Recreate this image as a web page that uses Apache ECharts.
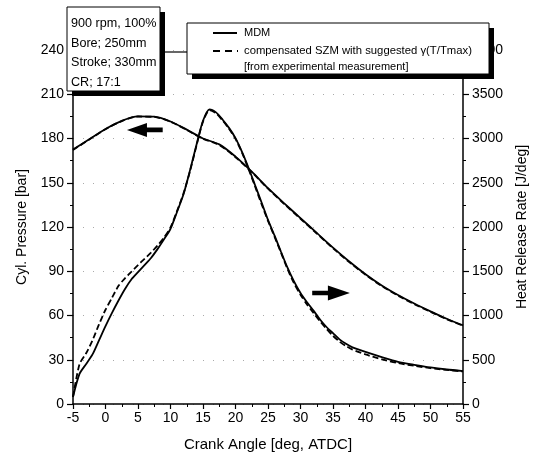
<!DOCTYPE html>
<html>
<head>
<meta charset="utf-8">
<script src="https://cdn.jsdelivr.net/npm/echarts@6/dist/echarts.min.js"></script>
<style>
html,body{margin:0;padding:0;background:#fff;}
#chart{width:541px;height:466px;}
</style>
</head>
<body>
<div id="chart"></div>
<script>
// ---- data ----
var pressureAngle = [-5,-2.5,0,2.5,5,7.5,10,12.5,15,17.5,20,22.5,25,27.5,30,32.5,35,37.5,40,42.5,45,47.5,50,52.5,55];
var pressureMDM = [172.5,179.5,186.5,192,195,194.8,191.5,186,180,176,167.7,157.5,146.3,136,126,116,106,96.6,88,80.4,73.9,68.1,62.8,57.8,53.3];
var pressureSZM = [172.2,179.3,186.3,191.8,194.9,194.6,191.4,185.8,179.8,175.6,167.3,157.2,146,135.6,125.6,115.6,105.6,96.2,87.6,80,73.5,67.7,62.5,57.5,53];

var hrrAngle = [-5,-4,-3,-2,-1,0,1,2,3,4,5,6,7,8,9,10,11,12,13,14,15,16,17,18,19,20,21,22,23,24,25,26,27,28,29,30,31,32,33,34,35,36,37,38,40,42.5,45,47.5,50,52.5,55];
var hrrMDM = [80,340,450,560,720,880,1030,1170,1300,1410,1490,1570,1650,1750,1860,1980,2170,2370,2640,2930,3200,3330,3295,3215,3120,3005,2850,2670,2475,2280,2080,1905,1720,1540,1385,1255,1150,1055,955,870,800,730,680,640,588,530,477,443,413,390,372];
var hrrSZM = [80,450,570,720,900,1065,1200,1335,1420,1495,1570,1640,1710,1790,1880,1995,2180,2380,2630,2920,3190,3320,3285,3205,3110,2995,2840,2655,2460,2260,2070,1890,1710,1525,1365,1235,1125,1030,935,850,770,705,655,615,560,505,462,432,405,385,368];

var xTicks = {min:-5, max:55, interval:5};
var pressureTicks = {min:0, max:240, interval:30};
var hrrTicks = {min:0, max:4000, interval:500};

var infoLines = ['900 rpm, 100%','Bore; 250mm','Stroke; 330mm','CR; 17:1'];
var legendNames = ['MDM','compensated SZM with suggested \u03b3(T/Tmax)'];
var legendNote = '[from experimental measurement]';

function pairs(xs, ys){ return xs.map(function(x,i){ return [x, ys[i]]; }); }

var FONT = '"Liberation Sans", Arial, sans-serif';
var chart = echarts.init(document.getElementById('chart'), null, {renderer:'canvas'});

function yAxisBase(t, pos, name, gap){
  return {
    type:'value', position:pos, min:t.min, max:t.max, interval:t.interval,
    name:name, nameLocation:'middle', nameRotate:90, nameGap:gap,
    nameTextStyle:{color:'#000', fontSize:14, fontFamily:FONT},
    axisLine:{show:true, onZero:false, lineStyle:{color:'#000', width:1.5}},
    axisTick:{show:true, length:6, lineStyle:{color:'#000', width:1.2}},
    minorTick:{show:true, splitNumber:2, length:3, lineStyle:{color:'#000', width:1}},
    axisLabel:{color:'#000', fontSize:14, fontFamily:FONT, margin:9, formatter:function(v){ return String(v); }},
    splitLine:{show:false}
  };
}

var yLeft = yAxisBase(pressureTicks, 'left', 'Cyl. Pressure [bar]', 44);
yLeft.splitLine = {show:true, lineStyle:{color:'#aaa', type:[1,9], width:1}};
var yRight = yAxisBase(hrrTicks, 'right', 'Heat Release Rate [J/deg]', 52);

var lineW = 1.8;
chart.setOption({
  animation:false,
  backgroundColor:'#fff',
  grid:{left:73, right:78, top:50, bottom:62, containLabel:false},
  xAxis:{
    type:'value', min:xTicks.min, max:xTicks.max, interval:xTicks.interval,
    name:'Crank Angle [deg, ATDC]', nameLocation:'middle', nameGap:33,
    nameTextStyle:{color:'#000', fontSize:15, fontFamily:FONT},
    axisLine:{show:true, onZero:false, lineStyle:{color:'#000', width:1.5}},
    axisTick:{show:true, length:5, lineStyle:{color:'#000', width:1.2}},
    minorTick:{show:true, splitNumber:2, length:3, lineStyle:{color:'#000', width:1}},
    axisLabel:{color:'#000', fontSize:14, fontFamily:FONT, margin:7},
    splitLine:{show:false}
  },
  yAxis:[yLeft, yRight],
  series:[
    {name:legendNames[0], type:'line', yAxisIndex:0, data:pairs(pressureAngle, pressureMDM), showSymbol:false, smooth:0.3,
     lineStyle:{color:'#000', width:lineW}, z:3},
    {name:legendNames[1], type:'line', yAxisIndex:0, data:pairs(pressureAngle, pressureSZM), showSymbol:false, smooth:0.3,
     lineStyle:{color:'#000', width:lineW, type:[6,3]}, z:4},
    {name:legendNames[0], type:'line', yAxisIndex:1, data:pairs(hrrAngle, hrrMDM), showSymbol:false, smooth:0.25,
     lineStyle:{color:'#000', width:lineW}, z:3},
    {name:legendNames[1], type:'line', yAxisIndex:1, data:pairs(hrrAngle, hrrSZM), showSymbol:false, smooth:0.25,
     lineStyle:{color:'#000', width:lineW, type:[6,3]}, z:4}
  ]
});

// arrows anchored to data coordinates
function px(x, y, axis){ return chart.convertToPixel({xAxisIndex:0, yAxisIndex:axis}, [x, y]); }
function arrow(tail, tip, headLen, headHalf, shaftHalf){
  var dir = tip[0] > tail[0] ? 1 : -1;
  var hx = tip[0] - dir*headLen, y = tip[1];
  return {type:'polygon', z:50, shape:{points:[
    [tail[0], y-shaftHalf],[hx, y-shaftHalf],[hx, y-headHalf],[tip[0], y],
    [hx, y+headHalf],[hx, y+shaftHalf],[tail[0], y+shaftHalf]]}, style:{fill:'#000'}};
}
var leftArrowTail = px(8.8, 185.8, 0), leftArrowTip = px(3.3, 185.8, 0);
var rightArrowTail = px(31.8, 1254, 1), rightArrowTip = px(37.6, 1254, 1);

var g = [];
g.push(arrow(leftArrowTail, leftArrowTip, 20, 7, 2.4));
g.push(arrow(rightArrowTail, rightArrowTip, 22, 7.5, 2.2));

// info box
g.push({type:'rect', z:100, shape:{x:72, y:12, width:93, height:84}, style:{fill:'#000'}});
g.push({type:'rect', z:101, shape:{x:67, y:7, width:93, height:84}, style:{fill:'#fff', stroke:'#000', lineWidth:1}});
infoLines.forEach(function(t, i){
  g.push({type:'text', z:102, x:71, y:24 + i*19.5, style:{text:t, fill:'#000', font:'12.6px '+FONT, textVerticalAlign:'middle', verticalAlign:'middle'}});
});
// connector
g.push({type:'line', z:99, shape:{x1:160, y1:52, x2:187, y2:52}, style:{stroke:'#000', lineWidth:1.2}});
// legend box
g.push({type:'rect', z:100, shape:{x:192, y:28, width:302, height:51}, style:{fill:'#000'}});
g.push({type:'rect', z:101, shape:{x:187, y:23, width:302, height:51}, style:{fill:'#fff', stroke:'#000', lineWidth:1}});
g.push({type:'line', z:102, shape:{x1:213, y1:33, x2:237, y2:33}, style:{stroke:'#000', lineWidth:2}});
g.push({type:'line', z:102, shape:{x1:213, y1:51, x2:238, y2:51}, style:{stroke:'#000', lineWidth:2, lineDash:[7,5]}});
g.push({type:'text', z:102, x:244, y:33, style:{text:legendNames[0], fill:'#000', font:'11px '+FONT, verticalAlign:'middle', textVerticalAlign:'middle'}});
g.push({type:'text', z:102, x:244, y:51, style:{text:legendNames[1], fill:'#000', font:'11.3px '+FONT, verticalAlign:'middle', textVerticalAlign:'middle'}});
g.push({type:'text', z:102, x:244, y:67, style:{text:legendNote, fill:'#000', font:'11px '+FONT, verticalAlign:'middle', textVerticalAlign:'middle'}});

chart.setOption({graphic:g});
</script>
</body>
</html>
